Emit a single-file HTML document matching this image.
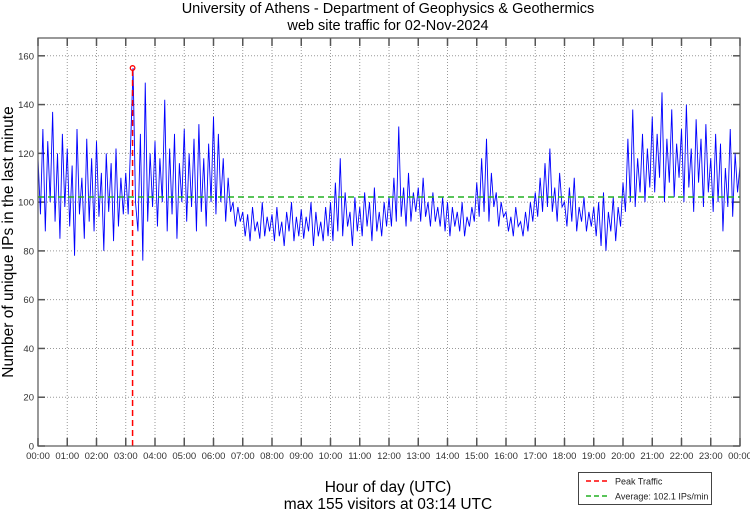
<!DOCTYPE html>
<html><head><meta charset="utf-8"><style>
body{margin:0;background:#fff;font-family:"Liberation Sans",sans-serif}
svg{display:block}
</style></head><body>
<svg id="c" width="750" height="511" font-family="Liberation Sans, sans-serif"></svg>
<script>
const hourLabels=["00:00","01:00","02:00","03:00","04:00","05:00","06:00","07:00","08:00","09:00","10:00","11:00","12:00","13:00","14:00","15:00","16:00","17:00","18:00","19:00","20:00","21:00","22:00","23:00","00:00"];
const yTicks=[0,20,40,60,80,100,120,140,160];
// visitors sampled every 5 minutes (estimated)
const visitors=[
118,95,130,88,125,100,137,92,120,85,128,98,
122,90,115,78,130,95,110,85,126,92,118,88,
125,94,112,80,120,96,116,84,122,90,110,95,
112,95,124,155,100,88,128,76,149,92,120,98,
125,90,118,100,142,88,122,95,128,85,116,100,
130,92,120,98,126,88,132,96,118,90,124,100,
135,95,128,100,118,92,110,96,100,90,98,92,
96,86,95,84,98,88,92,85,100,86,94,88,
95,84,98,86,92,82,96,88,100,84,94,86,
97,85,94,88,100,82,96,86,92,84,98,86,
100,84,108,88,118,86,104,90,96,82,102,88,
98,86,104,90,100,84,106,88,96,86,100,90,
102,90,110,92,131,94,106,90,112,92,104,96,
106,92,110,94,100,90,104,92,98,90,102,88,
100,86,98,90,96,88,100,86,94,90,98,92,
108,94,118,96,126,92,112,98,104,90,100,94,
96,88,94,86,98,90,92,86,96,88,100,92,
104,94,110,96,116,98,122,96,106,92,112,98,
100,90,106,92,110,88,98,92,102,88,96,90,
98,86,100,82,104,80,96,88,102,84,98,90,
108,96,126,100,138,98,118,104,128,100,122,106,
135,104,128,110,145,100,126,108,138,102,124,110,
130,100,140,106,122,96,134,108,126,98,132,104,
118,96,128,100,124,88,114,98,130,94,120,104,115];
const stepMinutes=5;
const peakValue=155, peakMinute=194;
const average=102.1;

const svg=document.getElementById('c');
const NS='http://www.w3.org/2000/svg';
const L=38,R=740,T=38,B=446,YMAX=167.3;
const xs=m=>L+(R-L)*m/1440;
const ys=v=>B-(B-T)*v/YMAX;
function mk(tag,attrs,parent){const e=document.createElementNS(NS,tag);for(const k in attrs)e.setAttribute(k,attrs[k]);(parent||svg).appendChild(e);return e;}
function txt(s,attrs){const e=mk('text',attrs);e.textContent=s;return e;}

// title
let t=txt('University of Athens - Department of Geophysics & Geothermics',{x:388,y:13,'text-anchor':'middle','font-size':14.5,fill:'#000'});


t=txt('web site traffic for 02-Nov-2024',{x:388,y:30,'text-anchor':'middle','font-size':14.5,fill:'#000'});



// grid & ticks
hourLabels.forEach((lab,i)=>{const x=xs(i*60);
 if(i>0&&i<24){const g=mk('line',{x1:x,x2:x,y1:T,y2:B,stroke:'#999','stroke-dasharray':'1,2','stroke-width':1});
 
 }
 mk('line',{x1:x,x2:x,y1:B,y2:B-8,stroke:'#555','stroke-width':1.5});
 mk('line',{x1:x,x2:x,y1:T,y2:T+8,stroke:'#555','stroke-width':1.5});
 const e=txt(lab,{x:x,y:B+13,'text-anchor':'middle','font-size':9.5,fill:'#333'});
 
 
});
yTicks.forEach(v=>{const y=ys(v);
 if(v>0){const g=mk('line',{x1:L,x2:R,y1:y,y2:y,stroke:'#999','stroke-dasharray':'1,2','stroke-width':1});
 
 }
 mk('line',{x1:L,x2:L+7,y1:y,y2:y,stroke:'#555','stroke-width':1.5});
 mk('line',{x1:R,x2:R-7,y1:y,y2:y,stroke:'#555','stroke-width':1.5});
 const e=txt(String(v),{x:L-4,y:y+3.5,'text-anchor':'end','font-size':9.5,fill:'#333'});
 
 
});

// series
const pts=visitors.map((v,i)=>xs(i*stepMinutes).toFixed(2)+','+ys(v).toFixed(2)).join(' ');
const line=mk('polyline',{points:pts,fill:'none',stroke:'#0000ff','stroke-width':0.9,'stroke-linejoin':'miter'});



// average
const av=mk('line',{x1:L,x2:R,y1:ys(average),y2:ys(average),stroke:'#22b022','stroke-width':1.5,'stroke-dasharray':'6,4'});


// peak
const pk=mk('line',{x1:xs(peakMinute),x2:xs(peakMinute),y1:B,y2:ys(peakValue),stroke:'#ff0000','stroke-width':1.5,'stroke-dasharray':'6,4'});


const pm=mk('circle',{cx:xs(peakMinute),cy:ys(peakValue),r:2.3,fill:'none',stroke:'#ff0000','stroke-width':1.3});



// frame
const fr=mk('rect',{x:L,y:T,width:R-L,height:B-T,fill:'none',stroke:'#555','stroke-width':1.2});



// axis titles
t=txt('Number of unique IPs in the last minute',{x:0,y:0,'text-anchor':'middle','font-size':15.5,fill:'#000',transform:'translate(13,242) rotate(-90)'});


t=txt('Hour of day (UTC)',{x:388,y:492,'text-anchor':'middle','font-size':15.5,fill:'#000'});


t=txt('max 155 visitors at 03:14 UTC',{x:388,y:509,'text-anchor':'middle','font-size':15.5,fill:'#000'});



// legend
const lg=mk('g',{});


mk('rect',{x:578.5,y:472.5,width:133,height:32,fill:'#fff',stroke:'#444','stroke-width':1},lg);
mk('line',{x1:586,x2:610,y1:481,y2:481,stroke:'#ff0000','stroke-width':1.5,'stroke-dasharray':'5,3'},lg);
mk('line',{x1:586,x2:610,y1:496,y2:496,stroke:'#22b022','stroke-width':1.5,'stroke-dasharray':'5,3'},lg);
let e=mk('text',{x:615,y:484.5,'font-size':9,fill:'#222'},lg);e.textContent='Peak Traffic';


e=mk('text',{x:615,y:499.5,'font-size':9,fill:'#222'},lg);e.textContent='Average: 102.1 IPs/min';


</script>
</body></html>
